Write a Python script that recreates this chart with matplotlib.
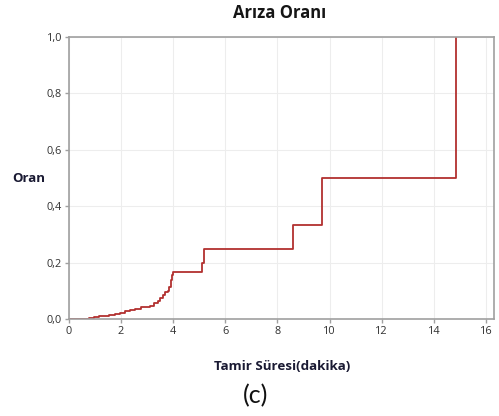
import matplotlib
matplotlib.use("Agg")
import matplotlib.pyplot as plt
from matplotlib.ticker import FuncFormatter

# Data (cumulative failure rate, step function)
repair_time = [0, 0.75, 0.95, 1.15, 1.35, 1.55, 1.75, 1.95, 2.15, 2.35, 2.55, 2.75,
               2.95, 3.1, 3.25, 3.4, 3.5, 3.6, 3.7, 3.8, 3.85, 3.9, 3.95, 3.98,
               5.12, 5.19, 8.6, 9.72, 14.86]
failure_rate = [0, 0.004, 0.006, 0.009, 0.012, 0.015, 0.019, 0.023, 0.027, 0.032, 0.037, 0.042,
                0.044, 0.047, 0.055, 0.065, 0.075, 0.085, 0.097, 0.100, 0.115, 0.140, 0.155, 0.1667,
                0.20, 0.25, 0.333, 0.50, 1.0]
x_ticks = [0, 2, 4, 6, 8, 10, 12, 14, 16]
y_ticks = [0.0, 0.2, 0.4, 0.6, 0.8, 1.0]

plt.rcParams['font.family'] = ['Open Sans', 'DejaVu Sans']

fig = plt.figure(figsize=(4.99, 4.16), dpi=100)
ax = fig.add_axes([69/499, 97/416, 425/499, 282/416])

ax.step(repair_time, failure_rate, where='post', color='#B2302F', lw=1.3)

ax.set_xlim(0, 16.31)
ax.set_ylim(0, 1.0)
ax.set_xticks(x_ticks)
ax.set_yticks(y_ticks)
ax.yaxis.set_major_formatter(FuncFormatter(lambda v, p: f"{v:.1f}".replace('.', ',')))
ax.grid(True, color='#EDEDED', lw=0.8)
ax.set_axisbelow(True)
for s in ax.spines.values():
    s.set_color('#A0A0A0')
    s.set_linewidth(1.2)
ax.tick_params(axis='both', colors='#A0A0A0', labelcolor='#303030', labelsize=7.8,
               length=3, width=1, pad=2)

fig.text(280/499, 1 - 13/416, 'Arıza Oranı', ha='center', va='center',
         fontsize=12, fontweight='bold', color='#151515')
fig.text(29/499, 1 - 179/416, 'Oran', ha='center', va='center',
         fontsize=9.5, fontweight='bold', color='#1A1A33')
fig.text(282/499, 1 - 367/416, 'Tamir Süresi(dakika)', ha='center', va='center',
         fontsize=9.6, fontweight='bold', color='#1A1A33')
fig.text(256/499, 1 - 396/416, '(c)', ha='center', va='center',
         fontsize=18, color='#111111', family=['Lato', 'DejaVu Sans'])

fig.savefig('out.png', dpi=100)
